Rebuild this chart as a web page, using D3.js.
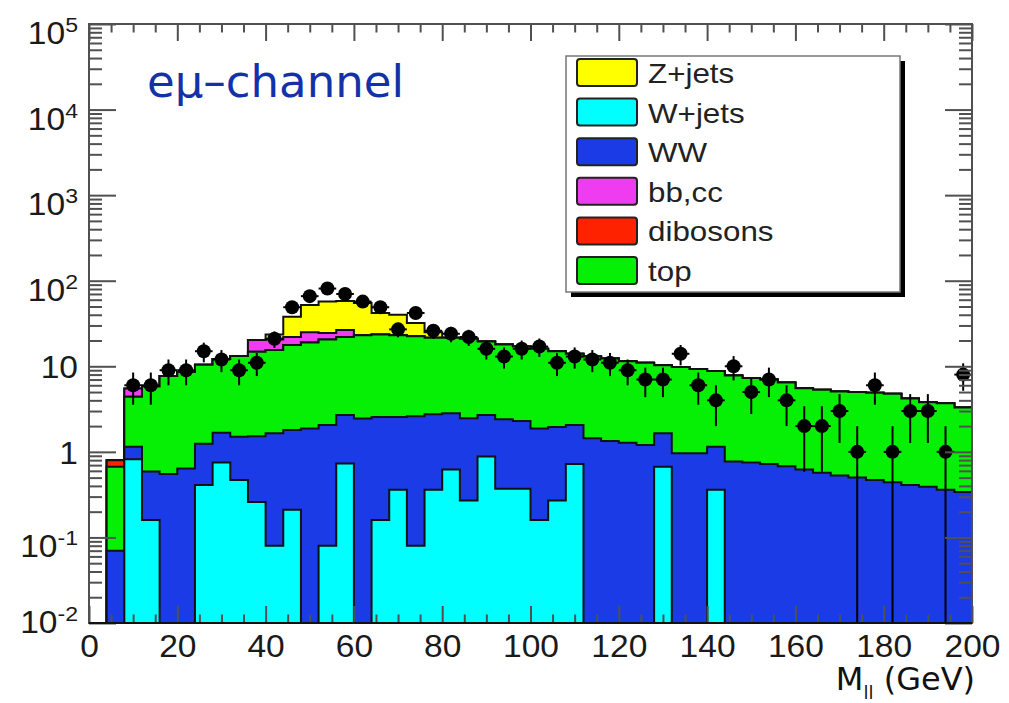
<!DOCTYPE html>
<html>
<head>
<meta charset="utf-8">
<script src="https://cdn.jsdelivr.net/npm/d3@7"></script>
<style>
  body { margin: 0; background: #fff; }
  text { font-family: "Liberation Sans", Arial, sans-serif; }
</style>
</head>
<body>
<script>
// lower edges of the 4 GeV bins
const binLow = [0, 4, 8, 12, 16, 20, 24, 28, 32, 36, 40, 44, 48, 52, 56, 60, 64, 68, 72, 76,
  80, 84, 88, 92, 96, 100, 104, 108, 112, 116, 120, 124, 128, 132, 136, 140, 144, 148, 152, 156,
  160, 164, 168, 172, 176, 180, 184, 188, 192, 196];
const binWidth = 4;

// stack components, bottom to top
const wjets = [0, 0, 0.82, 0.16, 0, 0, 0.41, 0.75, 0.47, 0.26,
  0.08, 0.21, 0, 0.08, 0.73, 0, 0.16, 0.36, 0.08, 0.36,
  0.62, 0.27, 0.88, 0.37, 0.37, 0.16, 0.27, 0.72, 0, 0,
  0, 0, 0.67, 0, 0, 0.36, 0, 0, 0, 0,
  0, 0, 0, 0, 0, 0, 0, 0, 0, 0];
const ww = [0, 0.07, 0.33, 0.43, 0.55, 0.64, 0.83, 0.92, 1.03, 1.26,
  1.57, 1.59, 1.87, 1.98, 1.97, 2.45, 2.39, 2.19, 2.52, 2.39,
  2.2, 2.2, 1.82, 2.03, 1.93, 1.72, 1.68, 1.34, 1.44, 1.34,
  1.28, 1.2, 0.98, 0.96, 0.96, 0.79, 0.77, 0.75, 0.72, 0.68,
  0.62, 0.57, 0.53, 0.5, 0.47, 0.44, 0.41, 0.39, 0.36, 0.34];
const topq = [0, 0.6, 3.25, 5.2, 7.15, 7.95, 9.15, 10.5, 11.7, 13.3,
  13.85, 15.9, 17.1, 18.45, 19.3, 20.55, 20.95, 20.45, 19.9, 18.75,
  18.7, 18.5, 16.8, 15.6, 14.7, 14.1, 13.05, 11.95, 11.55, 10.95,
  10.2, 9.8, 8.65, 8.85, 8.35, 7.65, 7.05, 6.55, 6.3, 5.8,
  4.9, 4.75, 4.55, 4.5, 4.45, 4.35, 3.8, 3.4, 3.35, 2.95];
const dibosons = [0, 0.13, 0, 0, 0, 0, 0, 0, 0, 0,
  0, 0, 0, 0, 0, 0, 0, 0, 0, 0,
  0, 0, 0, 0, 0, 0, 0, 0, 0, 0,
  0, 0, 0, 0, 0, 0, 0, 0, 0, 0,
  0, 0, 0, 0, 0, 0, 0, 0, 0, 0];
const bbcc = [0, 0, 1.1, 0, 0, 0, 0, 0, 0, 5.5,
  5.0, 4.3, 6.0, 4.0, 4.5, 0, 0, 0, 0, 0,
  0, 0, 0, 0, 0, 0, 0, 0, 0, 0,
  0, 0, 0, 0, 0, 0, 0, 0, 0, 0,
  0, 0, 0, 0, 0, 0, 0, 0, 0, 0];
const zjets = [0, 0, 0, 0, 0, 0, 0, 0, 0, 0,
  3.0, 16, 27, 32.5, 31.5, 32, 18.5, 17, 9.5, 3.5,
  0, 0, 0, 0, 0, 0, 0, 0, 0, 0,
  0, 0, 0, 0, 0, 0, 0, 0, 0, 0,
  0, 0, 0, 0, 0, 0, 0, 0, 0, 0];

// observed events per bin
const dataCounts = [0, 0, 6, 6, 9, 9, 15, 12, 9, 11,
  21, 49, 66, 81, 70, 57, 49, 27, 42, 26,
  24, 22, 16, 13, 16, 17, 11, 13, 12, 11,
  9, 7, 7, 14, 6, 4, 10, 5, 7, 4,
  2, 2, 3, 1, 6, 1, 3, 3, 1, 8];

const keys = ["wjets", "ww", "top", "dibosons", "bbcc", "zjets"];
const legendOrder = ["zjets", "wjets", "ww", "bbcc", "dibosons", "top"];
const legendNames = { zjets: "Z+jets", wjets: "W+jets", ww: "WW", bbcc: "bb,cc", dibosons: "dibosons", top: "top" };
const colors = { zjets: "#ffff00", wjets: "#00ffff", ww: "#1a3be6", bbcc: "#f03cf0", dibosons: "#ff2200", top: "#06f006" };

const xTicks = [0, 20, 40, 60, 80, 100, 120, 140, 160, 180, 200];
const yDecades = [1e-2, 1e-1, 1, 10, 1e2, 1e3, 1e4, 1e5];
const yLabels = [["10", "-2"], ["10", "-1"], ["1", ""], ["10", ""], ["10", "2"], ["10", "3"], ["10", "4"], ["10", "5"]];

const w = 1009;
const h = 703;
const margin = { left: 89, right: 972, top: 24, bottom: 623 };

const xScale = d3.scaleLinear().domain([0, 200]).range([margin.left, margin.right]);
const yScale = d3.scaleLog().domain([1e-2, 1e5]).range([margin.bottom, margin.top]).clamp(true);
const yv = (v) => yScale(Math.max(v, 1e-3));

const svg = d3.select("body").append("svg").attr("width", w).attr("height", h);

// table for the stack
const rows = binLow.map((lo, i) => ({
  lo: lo, wjets: wjets[i], ww: ww[i], top: topq[i],
  dibosons: dibosons[i], bbcc: bbcc[i], zjets: zjets[i]
}));
const series = d3.stack().keys(keys)(rows);

// step outline of a cumulative histogram
function stepPoints(s) {
  const pts = [[xScale(0), margin.bottom]];
  s.forEach((d, i) => {
    const y = yv(d[1]);
    pts.push([xScale(binLow[i]), y]);
    pts.push([xScale(binLow[i] + binWidth), y]);
  });
  pts.push([xScale(200), margin.bottom]);
  return pts;
}

const stackG = svg.append("g");
// ROOT-like: draw the total first, then each lower cumulative on top
series.slice().reverse().forEach((s) => {
  const pts = stepPoints(s);
  stackG.append("path")
    .attr("d", d3.line()(pts) + "Z")
    .attr("fill", colors[s.key])
    .attr("stroke", "none");
  stackG.append("path")
    .attr("d", d3.line()(pts))
    .attr("fill", "none")
    .attr("stroke", "#111")
    .attr("stroke-width", 2);
});

// data points with sqrt(N) errors
const pts = dataCounts.map((n, i) => ({ n: n, lo: binLow[i] })).filter((d) => d.n > 0);
const dataG = svg.append("g");
dataG.selectAll("line.ev")
  .data(pts).enter().append("line")
  .attr("x1", (d) => xScale(d.lo + binWidth / 2))
  .attr("x2", (d) => xScale(d.lo + binWidth / 2))
  .attr("y1", (d) => yv(d.n - Math.sqrt(d.n)))
  .attr("y2", (d) => yv(d.n + Math.sqrt(d.n)))
  .attr("stroke", "#000").attr("stroke-width", 2);
dataG.selectAll("line.eh")
  .data(pts).enter().append("line")
  .attr("x1", (d) => xScale(d.lo))
  .attr("x2", (d) => xScale(d.lo + binWidth))
  .attr("y1", (d) => yv(d.n))
  .attr("y2", (d) => yv(d.n))
  .attr("stroke", "#000").attr("stroke-width", 2);
dataG.selectAll("circle")
  .data(pts).enter().append("circle")
  .attr("cx", (d) => xScale(d.lo + binWidth / 2))
  .attr("cy", (d) => yv(d.n))
  .attr("r", 7)
  .attr("fill", "#000");

// frame + ticks
const tickColor = "#505050";
const xMinor = d3.range(0, 201, 5).filter((d) => d % 20 !== 0);
const yMinor = [];
yDecades.slice(0, -1).forEach((d) => { for (let k = 2; k <= 9; k++) yMinor.push(d * k); });

function styleAxis(g) {
  g.select(".domain").remove();
  g.selectAll(".tick line").attr("stroke", tickColor).attr("stroke-width", 2);
}

const xAxis = d3.axisBottom(xScale).tickValues(xTicks).tickSize(-17).tickPadding(12).tickFormat(d3.format("d"));
svg.append("g")
  .attr("transform", "translate(0," + margin.bottom + ")")
  .call(xAxis)
  .call(styleAxis)
  .call((g) => g.selectAll("text")
    .attr("font-size", 30.5)
    .attr("fill", "#1a1a1a")
    .attr("font-family", "Liberation Sans, Arial, sans-serif")
    .attr("dy", "0.71em")
    .attr("transform", "scale(1.1,1)"));
svg.append("g")
  .attr("transform", "translate(0," + margin.bottom + ")")
  .call(d3.axisBottom(xScale).tickValues(xMinor).tickSize(-8.5).tickFormat(""))
  .call(styleAxis);
svg.append("g")
  .attr("transform", "translate(0," + margin.top + ")")
  .call(d3.axisTop(xScale).tickValues(xTicks).tickSize(-17).tickFormat(""))
  .call(styleAxis);
svg.append("g")
  .attr("transform", "translate(0," + margin.top + ")")
  .call(d3.axisTop(xScale).tickValues(xMinor).tickSize(-8.5).tickFormat(""))
  .call(styleAxis);

svg.append("g")
  .attr("transform", "translate(" + margin.left + ",0)")
  .call(d3.axisLeft(yScale).tickValues(yDecades).tickSize(-27).tickFormat(""))
  .call(styleAxis);
svg.append("g")
  .attr("transform", "translate(" + margin.left + ",0)")
  .call(d3.axisLeft(yScale).tickValues(yMinor).tickSize(-13).tickFormat(""))
  .call(styleAxis);
svg.append("g")
  .attr("transform", "translate(" + margin.right + ",0)")
  .call(d3.axisRight(yScale).tickValues(yDecades).tickSize(-27).tickFormat(""))
  .call(styleAxis);
svg.append("g")
  .attr("transform", "translate(" + margin.right + ",0)")
  .call(d3.axisRight(yScale).tickValues(yMinor).tickSize(-13).tickFormat(""))
  .call(styleAxis);

svg.append("rect")
  .attr("x", margin.left).attr("y", margin.top)
  .attr("width", margin.right - margin.left).attr("height", margin.bottom - margin.top)
  .attr("fill", "none").attr("stroke", tickColor).attr("stroke-width", 2);
svg.append("line")
  .attr("x1", margin.left).attr("x2", margin.right)
  .attr("y1", margin.bottom).attr("y2", margin.bottom)
  .attr("stroke", "#111").attr("stroke-width", 2);

// y labels with exponents
yDecades.forEach((d, i) => {
  const lab = yLabels[i];
  const base = lab[1] ? Math.min(yScale(d) + 20, 633) : yScale(d) + 12;
  const t = svg.append("text")
    .attr("transform", "translate(78," + base + ") scale(1.1,1)")
    .attr("text-anchor", "end")
    .attr("fill", "#1a1a1a")
    .attr("font-size", 30.5);
  t.append("tspan").text(lab[0]);
  if (lab[1]) t.append("tspan").attr("dy", -12).attr("font-size", 21).text(lab[1]);
});

// x title
const xt = svg.append("text")
  .attr("x", 975).attr("y", 690)
  .attr("text-anchor", "end")
  .style("font-family", "'DejaVu Sans', sans-serif")
  .attr("font-size", 32)
  .attr("fill", "#111");
xt.append("tspan").text("M");
xt.append("tspan").attr("font-size", 18).attr("dy", 9).text("ll");
xt.append("tspan").attr("dy", -9).text(" (GeV)");

// channel tag
svg.append("text")
  .attr("x", 147).attr("y", 97)
  .style("font-family", "'DejaVu Sans', sans-serif")
  .attr("font-size", 45)
  .attr("fill", "#1432a8")
  .text("eμ–channel");

// legend
const leg = { x: 566, y: 56, w: 334, h: 236 };
svg.append("rect")
  .attr("x", leg.x + 5).attr("y", leg.y + 5).attr("width", leg.w).attr("height", leg.h)
  .attr("fill", "#000");
svg.append("rect")
  .attr("x", leg.x).attr("y", leg.y).attr("width", leg.w).attr("height", leg.h)
  .attr("fill", "#fff").attr("stroke", "#777").attr("stroke-width", 1.5);

const legRow = svg.selectAll("g.leg")
  .data(legendOrder).enter().append("g")
  .attr("class", "leg")
  .attr("transform", (d, i) => "translate(" + (leg.x + 11) + "," + (leg.y + 3 + i * 39.6) + ")");
legRow.append("rect")
  .attr("width", 60).attr("height", 27).attr("rx", 3)
  .attr("fill", (d) => colors[d])
  .attr("stroke", "#222").attr("stroke-width", 2);
legRow.append("text")
  .attr("transform", "translate(71,24) scale(1.12,1)")
  .attr("font-size", 28)
  .attr("fill", "#222")
  .text((d) => legendNames[d]);
</script>
</body>
</html>
